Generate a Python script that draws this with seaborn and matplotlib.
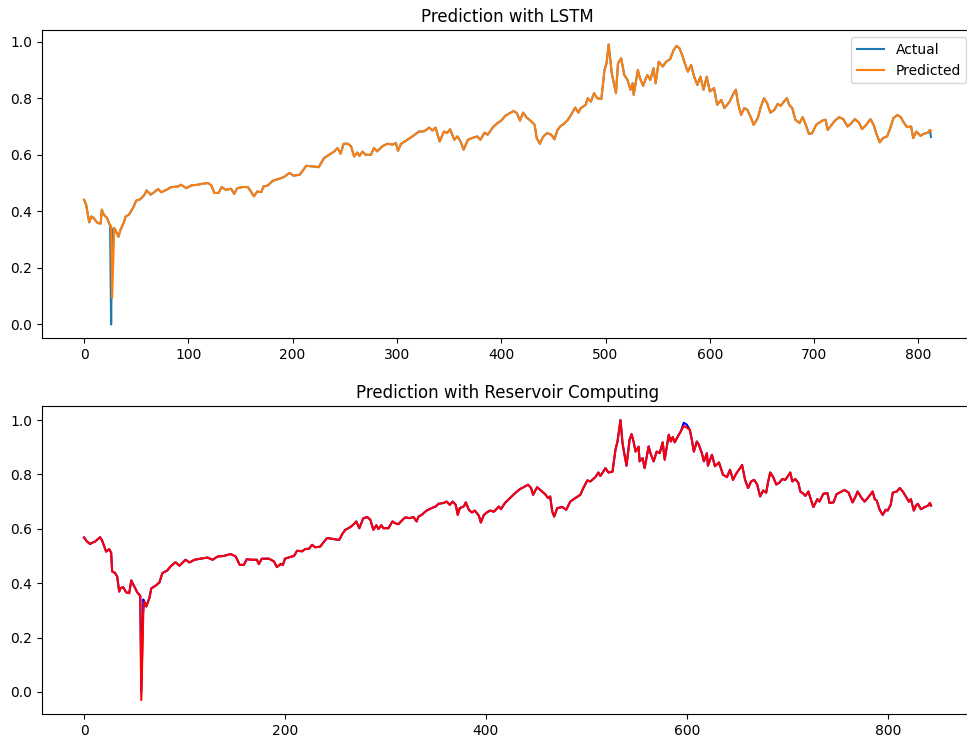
import matplotlib
matplotlib.use("Agg")
import matplotlib.pyplot as plt
import seaborn as sns

# LSTM panel: time index and scaled values
lstm_idx = [0, 2, 5, 7, 9, 13, 16, 17, 19, 22, 24, 25, 26, 27, 29, 31, 33, 35, 38, 40,
            43, 47, 50, 54, 58, 60, 64, 67, 71, 74, 79, 83, 90, 93, 98, 103, 109, 114, 119, 122,
            125, 129, 132, 136, 141, 144, 147, 152, 157, 160, 163, 166, 170, 172, 176, 181, 184, 188, 192, 197,
            201, 207, 213, 219, 225, 230, 235, 240, 243, 246, 249, 253, 256, 259, 262, 264, 267, 270, 275, 278,
            281, 286, 291, 296, 299, 301, 304, 310, 316, 321, 326, 331, 334, 337, 341, 345, 348, 351, 355, 358,
            361, 364, 368, 372, 377, 380, 384, 387, 392, 396, 400, 404, 409, 412, 415, 418, 421, 424, 428, 432,
            434, 437, 440, 444, 448, 451, 454, 457, 460, 464, 467, 471, 474, 476, 481, 483, 486, 489, 492, 496,
            499, 501, 503, 506, 510, 512, 515, 518, 521, 524, 526, 527, 531, 533, 536, 540, 543, 546, 548, 551,
            555, 558, 562, 565, 568, 571, 574, 577, 579, 582, 585, 588, 591, 594, 597, 600, 604, 607, 611, 614,
            619, 622, 625, 627, 630, 633, 636, 639, 642, 646, 649, 652, 655, 658, 662, 665, 668, 671, 674, 676,
            679, 682, 686, 689, 692, 695, 698, 702, 705, 708, 711, 713, 716, 720, 724, 728, 732, 735, 739, 743,
            746, 750, 754, 757, 760, 763, 766, 770, 773, 776, 780, 783, 786, 789, 793, 795, 798, 802, 805, 809,
            811, 812]
lstm_actual = [0.441, 0.424, 0.361, 0.382, 0.377, 0.359, 0.357, 0.406, 0.388, 0.377, 0.359, 0.349, 0.0, 0.335, 0.341, 0.327, 0.31, 0.335, 0.359, 0.382,
               0.388, 0.412, 0.438, 0.443, 0.459, 0.474, 0.459, 0.467, 0.479, 0.468, 0.476, 0.485, 0.488, 0.494, 0.482, 0.492, 0.494, 0.498, 0.5, 0.492,
               0.465, 0.465, 0.486, 0.476, 0.48, 0.462, 0.482, 0.486, 0.486, 0.47, 0.453, 0.47, 0.468, 0.488, 0.491, 0.508, 0.512, 0.516, 0.522, 0.536,
               0.526, 0.53, 0.561, 0.559, 0.556, 0.588, 0.6, 0.612, 0.624, 0.604, 0.639, 0.639, 0.63, 0.594, 0.608, 0.596, 0.611, 0.6, 0.6, 0.624,
               0.612, 0.63, 0.639, 0.636, 0.642, 0.614, 0.639, 0.653, 0.668, 0.682, 0.683, 0.696, 0.686, 0.696, 0.647, 0.682, 0.677, 0.69, 0.653, 0.665,
               0.647, 0.618, 0.653, 0.659, 0.665, 0.653, 0.678, 0.671, 0.697, 0.711, 0.721, 0.738, 0.749, 0.755, 0.747, 0.721, 0.749, 0.733, 0.721, 0.706,
               0.659, 0.639, 0.663, 0.677, 0.671, 0.655, 0.688, 0.702, 0.709, 0.724, 0.742, 0.767, 0.749, 0.764, 0.777, 0.8, 0.788, 0.818, 0.8, 0.797,
               0.9, 0.924, 0.99, 0.888, 0.818, 0.924, 0.941, 0.882, 0.865, 0.83, 0.853, 0.812, 0.9, 0.871, 0.844, 0.882, 0.865, 0.906, 0.853, 0.929,
               0.912, 0.929, 0.938, 0.968, 0.985, 0.976, 0.947, 0.912, 0.894, 0.918, 0.876, 0.847, 0.876, 0.83, 0.876, 0.824, 0.836, 0.777, 0.794, 0.765,
               0.788, 0.812, 0.83, 0.783, 0.741, 0.765, 0.759, 0.735, 0.706, 0.73, 0.771, 0.8, 0.782, 0.749, 0.759, 0.78, 0.773, 0.788, 0.8, 0.777,
               0.765, 0.724, 0.712, 0.733, 0.706, 0.674, 0.676, 0.706, 0.714, 0.721, 0.724, 0.688, 0.702, 0.721, 0.733, 0.726, 0.7, 0.709, 0.726, 0.714,
               0.691, 0.706, 0.726, 0.706, 0.671, 0.644, 0.659, 0.665, 0.694, 0.73, 0.741, 0.733, 0.714, 0.698, 0.7, 0.659, 0.682, 0.667, 0.674, 0.678,
               0.688, 0.663]
# where the predicted line visibly departs from the actual one
lstm_pred_diff = {26: 0.349, 27: 0.094, 812: 0.685}

# Reservoir computing panel
res_idx = [0, 3, 6, 9, 11, 16, 18, 22, 25, 27, 28, 31, 33, 35, 36, 39, 42, 45, 47, 50,
           53, 56, 57, 59, 60, 62, 65, 67, 71, 75, 78, 83, 86, 91, 95, 101, 105, 110, 116, 123,
           128, 133, 139, 146, 151, 155, 159, 162, 167, 172, 174, 177, 184, 189, 192, 196, 198, 200, 205, 209,
           212, 217, 220, 224, 227, 230, 235, 239, 242, 247, 254, 257, 260, 265, 268, 271, 274, 278, 282, 285,
           288, 291, 293, 296, 298, 303, 307, 310, 313, 317, 320, 324, 328, 331, 333, 336, 341, 346, 350, 353,
           358, 361, 364, 367, 370, 372, 374, 378, 380, 383, 386, 389, 393, 395, 398, 401, 404, 408, 413, 415,
           419, 424, 429, 434, 439, 442, 445, 447, 451, 456, 459, 462, 464, 466, 468, 471, 476, 480, 484, 489,
           494, 497, 501, 504, 509, 512, 514, 519, 522, 526, 529, 531, 534, 536, 538, 540, 543, 545, 547, 549,
           552, 553, 556, 558, 562, 564, 567, 570, 573, 576, 578, 582, 584, 586, 588, 592, 594, 597, 600, 603,
           605, 607, 610, 612, 615, 617, 620, 621, 625, 628, 632, 636, 640, 643, 646, 649, 653, 655, 658, 661,
           664, 667, 670, 673, 676, 679, 681, 683, 686, 689, 692, 695, 698, 700, 703, 705, 708, 711, 713, 716,
           718, 721, 723, 726, 730, 732, 736, 740, 742, 746, 749, 754, 757, 761, 765, 768, 770, 774, 777, 780,
           785, 787, 789, 792, 795, 798, 800, 803, 805, 809, 812, 815, 818, 821, 823, 826, 828, 830, 833, 837,
           840, 842, 843]
res_actual = [0.568, 0.553, 0.544, 0.55, 0.553, 0.569, 0.557, 0.516, 0.525, 0.512, 0.443, 0.437, 0.424, 0.369, 0.381, 0.385, 0.366, 0.363, 0.41, 0.388,
              0.366, 0.353, 0.0, 0.34, 0.332, 0.314, 0.345, 0.381, 0.39, 0.402, 0.437, 0.447, 0.461, 0.477, 0.464, 0.486, 0.476, 0.486, 0.49, 0.494,
              0.486, 0.498, 0.5, 0.507, 0.498, 0.467, 0.467, 0.488, 0.486, 0.486, 0.47, 0.49, 0.49, 0.48, 0.459, 0.471, 0.467, 0.49, 0.496, 0.5,
              0.519, 0.517, 0.525, 0.527, 0.541, 0.532, 0.534, 0.553, 0.566, 0.563, 0.559, 0.58, 0.596, 0.606, 0.615, 0.627, 0.602, 0.639, 0.643, 0.633,
              0.596, 0.613, 0.599, 0.613, 0.602, 0.602, 0.627, 0.62, 0.617, 0.633, 0.642, 0.639, 0.643, 0.627, 0.645, 0.651, 0.667, 0.676, 0.682, 0.692,
              0.695, 0.7, 0.688, 0.7, 0.688, 0.651, 0.676, 0.682, 0.697, 0.67, 0.66, 0.667, 0.648, 0.623, 0.651, 0.66, 0.667, 0.663, 0.682, 0.672,
              0.695, 0.713, 0.731, 0.746, 0.756, 0.762, 0.75, 0.725, 0.753, 0.737, 0.727, 0.713, 0.719, 0.664, 0.645, 0.676, 0.68, 0.67, 0.7, 0.713,
              0.725, 0.75, 0.778, 0.774, 0.79, 0.807, 0.794, 0.823, 0.807, 0.81, 0.891, 0.921, 1.0, 0.915, 0.872, 0.832, 0.927, 0.948, 0.921, 0.884,
              0.902, 0.848, 0.86, 0.823, 0.903, 0.876, 0.848, 0.884, 0.878, 0.918, 0.854, 0.946, 0.921, 0.937, 0.918, 0.946, 0.958, 0.99, 0.983, 0.964,
              0.927, 0.884, 0.921, 0.909, 0.878, 0.848, 0.878, 0.832, 0.872, 0.83, 0.844, 0.799, 0.79, 0.817, 0.78, 0.802, 0.823, 0.835, 0.78, 0.75,
              0.774, 0.78, 0.763, 0.719, 0.741, 0.733, 0.774, 0.807, 0.79, 0.763, 0.769, 0.783, 0.78, 0.79, 0.807, 0.774, 0.783, 0.769, 0.737, 0.729,
              0.721, 0.737, 0.713, 0.68, 0.709, 0.7, 0.729, 0.731, 0.695, 0.697, 0.727, 0.737, 0.743, 0.733, 0.697, 0.719, 0.737, 0.713, 0.7, 0.713,
              0.737, 0.709, 0.704, 0.67, 0.651, 0.67, 0.667, 0.689, 0.733, 0.737, 0.75, 0.737, 0.719, 0.7, 0.709, 0.667, 0.685, 0.692, 0.672, 0.68,
              0.685, 0.695, 0.685]
res_pred_diff = {57: -0.03, 59: 0.29, 597: 0.978, 600: 0.972}

lstm_pred = [lstm_pred_diff.get(i, v) for i, v in zip(lstm_idx, lstm_actual)]
res_pred = [res_pred_diff.get(i, v) for i, v in zip(res_idx, res_actual)]

fig = plt.figure(figsize=(9.67, 7.40), dpi=100)
# right spine sits just past the figure edge, as in the cropped original
ax1 = fig.add_axes([0.0431, 0.5426, 0.9634, 0.4162])
ax2 = fig.add_axes([0.0431, 0.0351, 0.9634, 0.4162])

sns.lineplot(x=lstm_idx, y=lstm_actual, ax=ax1, color="tab:blue", label="Actual")
sns.lineplot(x=lstm_idx, y=lstm_pred, ax=ax1, color="tab:orange", label="Predicted")
ax1.set_title("Prediction with LSTM")
ax1.legend(loc="upper right")

sns.lineplot(x=res_idx, y=res_actual, ax=ax2, color="blue")
sns.lineplot(x=res_idx, y=res_pred, ax=ax2, color="red")
ax2.set_title("Prediction with Reservoir Computing")

ax1.set_yticks([0.0, 0.2, 0.4, 0.6, 0.8, 1.0])
ax2.set_yticks([0.0, 0.2, 0.4, 0.6, 0.8, 1.0])

fig.savefig("out.png", dpi=100)
